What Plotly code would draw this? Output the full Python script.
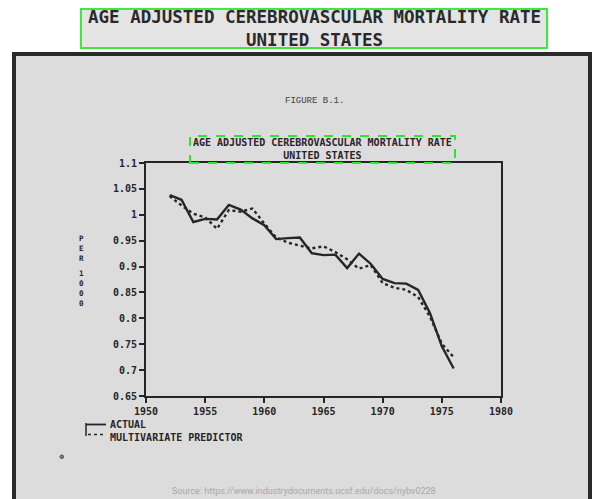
import plotly.graph_objects as go

# ---- data ----
years = list(range(1952, 1977))
actual = [1.038, 1.029, 0.986, 0.992, 0.991, 1.019, 1.010, 0.993, 0.980, 0.953,
          0.955, 0.956, 0.926, 0.922, 0.923, 0.897, 0.925, 0.905, 0.876, 0.868,
          0.867, 0.855, 0.810, 0.746, 0.703]
predictor = [1.036, 1.018, 1.002, 0.995, 0.973, 1.009, 1.006, 1.012, 0.983, 0.956,
             0.946, 0.941, 0.935, 0.939, 0.928, 0.914, 0.896, 0.903, 0.868, 0.859,
             0.855, 0.841, 0.803, 0.751, 0.725]
x_ticks = [1950, 1955, 1960, 1965, 1970, 1975, 1980]
y_ticks = [0.65, 0.7, 0.75, 0.8, 0.85, 0.9, 0.95, 1.0, 1.05, 1.1]
y_tick_text = ["0.65", "0.7", "0.75", "0.8", "0.85", "0.9", "0.95", "1", "1.05", "1.1"]
series_names = ["ACTUAL", "MULTIVARIATE PREDICTOR"]
title_lines = ["AGE ADJUSTED CEREBROVASCULAR MORTALITY RATE", "UNITED STATES"]
y_title_top = ["P", "E", "R"]
y_title_bottom = ["1", "0", "0", "0"]

W, H = 600, 499
OFF = 8  # page body margin offset in the screenshot
def px(x):
    return (x - OFF) / W
def py(y):
    return 1 - (y - OFF) / H

MONO = "DejaVu Sans Mono"
INK = "#262626"

fig = go.Figure()
fig.add_trace(go.Scatter(x=years, y=actual, mode="lines", name=series_names[0],
                         line=dict(color=INK, width=2.4)))
fig.add_trace(go.Scatter(x=years, y=predictor, mode="lines", name=series_names[1],
                         line=dict(color=INK, width=2.4, dash="dot")))

shapes = []
# document frame + paper
shapes.append(dict(type="rect", xref="paper", yref="paper", x0=px(12), x1=px(592), y0=py(510), y1=py(52),
                   fillcolor="#2a2a2a", line=dict(width=0), layer="below"))
shapes.append(dict(type="rect", xref="paper", yref="paper", x0=px(16), x1=px(588), y0=py(510), y1=py(56),
                   fillcolor="#dcdcdc", line=dict(width=0), layer="below"))
# outer title box
shapes.append(dict(type="rect", xref="paper", yref="paper", x0=px(81), x1=px(547), y0=py(48), y1=py(9),
                   fillcolor="#e4e4e4", line=dict(color="#3ee83e", width=2), layer="below"))
# inner dashed title box
shapes.append(dict(type="rect", xref="paper", yref="paper", x0=px(190), x1=px(455), y0=py(163), y1=py(136),
                   fillcolor="rgba(0,0,0,0)", line=dict(color="#2ee62e", width=2, dash="dash"), layer="above"))
# legend symbol (bracket)
shapes.append(dict(type="line", xref="paper", yref="paper", x0=px(86), x1=px(86), y0=py(436), y1=py(423),
                   line=dict(color=INK, width=1.5)))
shapes.append(dict(type="line", xref="paper", yref="paper", x0=px(86), x1=px(106), y0=py(424.5), y1=py(424.5),
                   line=dict(color=INK, width=1.8)))
shapes.append(dict(type="line", xref="paper", yref="paper", x0=px(88), x1=px(106), y0=py(434.5), y1=py(434.5),
                   line=dict(color=INK, width=1.6, dash="dot")))
# small scan mark
shapes.append(dict(type="circle", xref="paper", yref="paper", x0=px(60), x1=px(63.5), y0=py(458.5), y1=py(455),
                   line=dict(color="#444", width=1), fillcolor="#888"))

def note(text, x, y, size, family=MONO, color=INK, bold=True, xanchor="center", align="center"):
    return dict(text=text, x=px(x), y=py(y), xref="paper", yref="paper", showarrow=False,
                xanchor=xanchor, yanchor="middle", align=align,
                font=dict(family=family, size=size, color=color, weight="bold" if bold else "normal"))

ann = [
    note("<br>".join(title_lines), 314, 28, 17.5, color="#2a2a2a"),
    note("FIGURE B.1.", 314, 101, 9, family="Liberation Mono", color="#444", bold=False),
    note("<br>".join(title_lines), 322, 149, 10),
    note("<br>".join(y_title_top), 81, 249, 7.6),
    note("<br>".join(y_title_bottom), 81, 288, 7.6),
    note("<br>".join(series_names), 108, 430.5, 10, xanchor="left", align="left"),
    note("Source: https://www.industrydocuments.ucsf.edu/docs/nybv0228", 304, 491, 9,
         family="Roboto", color="#a8a8a8", bold=False),
]

axis_common = dict(showline=True, linewidth=2, linecolor=INK, mirror=True, showgrid=False, zeroline=False,
                   ticks="outside", ticklen=5, tickwidth=1.5, tickcolor=INK, automargin=False,
                   tickfont=dict(family=MONO, size=10, color=INK, weight="bold"))

fig.update_layout(
    width=W, height=H,
    margin=dict(l=0, r=0, t=0, b=0, pad=0),
    paper_bgcolor="white", plot_bgcolor="rgba(0,0,0,0)",
    showlegend=False,
    xaxis=dict(domain=[px(146), px(501)], range=[1950, 1980], tickvals=x_ticks, **axis_common),
    yaxis=dict(domain=[py(396), py(163)], range=[0.65, 1.1], tickvals=y_ticks, ticktext=y_tick_text,
               **axis_common),
    shapes=shapes, annotations=ann,
)

fig.write_html("out.html", config={"displayModeBar": False})
